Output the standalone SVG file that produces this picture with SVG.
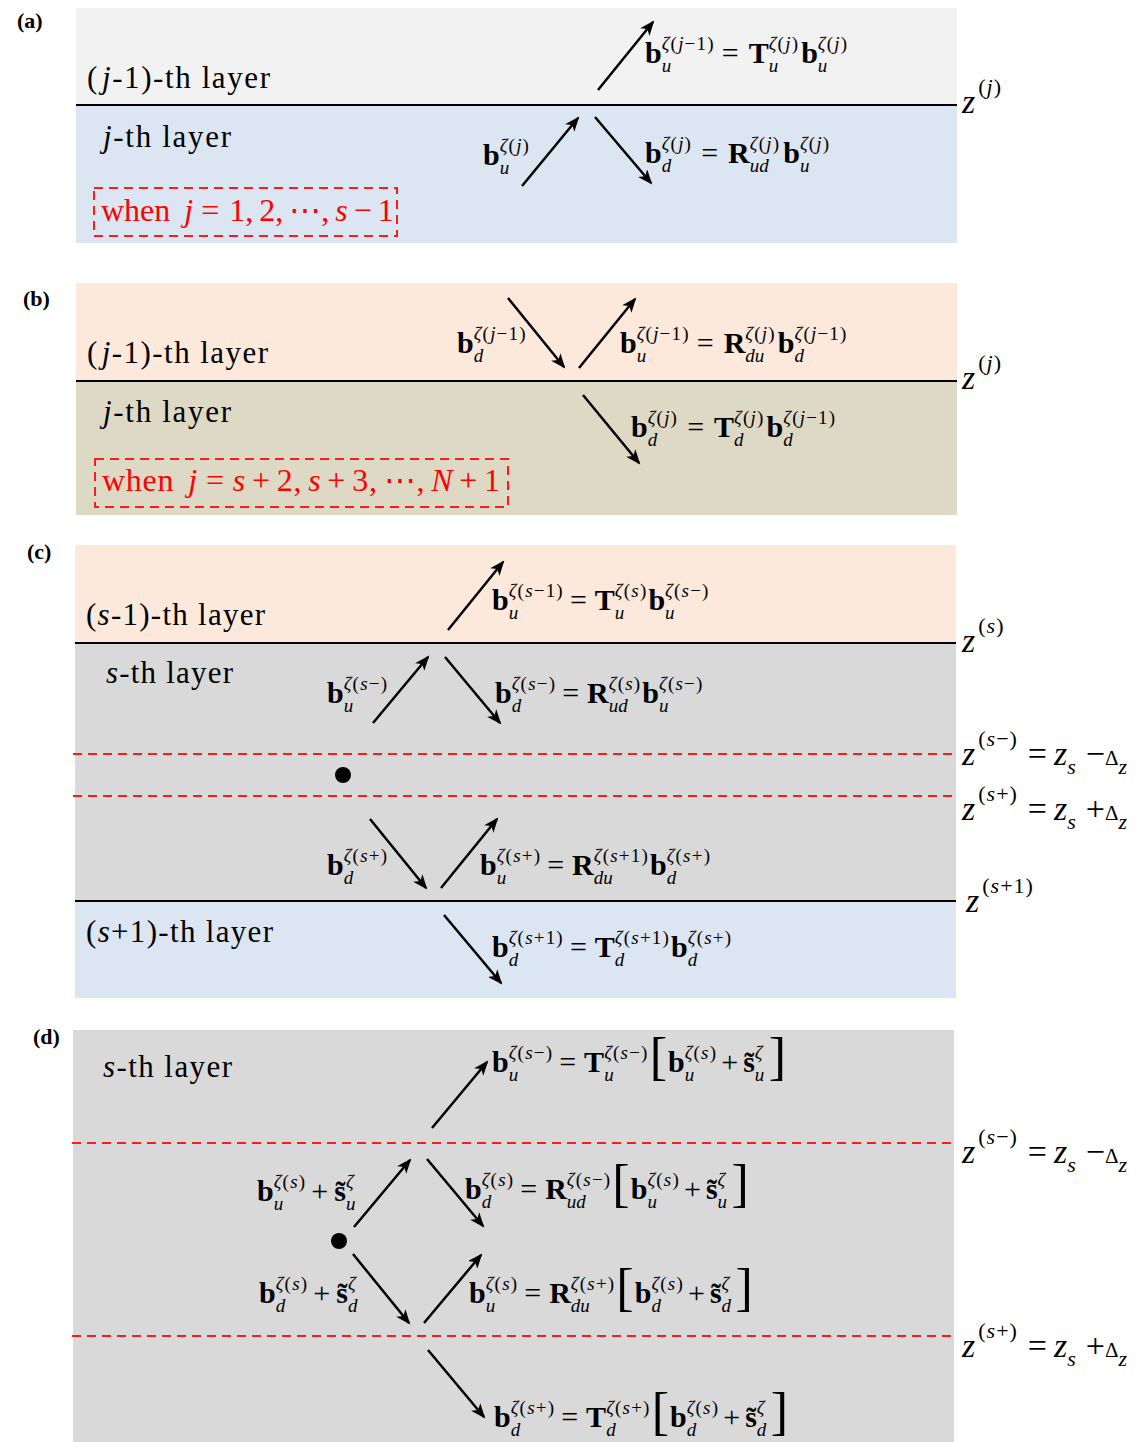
<svg xmlns="http://www.w3.org/2000/svg" width="1142" height="1442" viewBox="0 0 1142 1442">
<style>
.m{font-family:"Liberation Serif","Times New Roman",serif;font-size:30px;fill:#000}
.B{font-weight:bold}
.sb{font-size:19px;font-style:italic;font-weight:normal}
.sp{font-size:19px;font-style:normal;font-weight:normal;letter-spacing:1.2px}
.i{font-style:italic}
.br{font-size:52px;font-weight:normal}
.L{font-family:"Liberation Serif","Times New Roman",serif;font-size:31px;fill:#000}
.P{font-family:"Liberation Serif","Times New Roman",serif;font-size:22px;font-weight:bold;fill:#000}
.rt{font-family:"Liberation Serif","DejaVu Serif",serif;font-size:32px;fill:#ff0000}
.z{font-family:"Liberation Serif","Times New Roman",serif;font-size:34px;font-style:italic;fill:#000}
.zs{font-size:22px;font-style:normal;letter-spacing:1px}
.zb{font-size:22px}
.n{font-style:normal}
.dl{font-style:normal;font-size:21px}
.sep{stroke:#000;stroke-width:2}
.rd{stroke:#ff1a1a;stroke-width:2;stroke-dasharray:9 6;fill:none}
.ar{stroke:#000;stroke-width:2.5;fill:none;marker-end:url(#ah)}
</style>
<defs>
<marker id="ah" markerWidth="16" markerHeight="12" refX="13" refY="6" orient="auto" markerUnits="userSpaceOnUse"><path d="M0,0 L15,6 L0,12 L4,6 Z" fill="#000"/></marker>
</defs>
<rect x="0" y="0" width="1142" height="1442" fill="#fff"/>

<g id="panel-a">
<rect x="76" y="8" width="881" height="97" fill="#f2f2f2"/>
<rect x="76" y="105" width="881" height="138" fill="#dce6f2"/>
<line class="sep" x1="76" y1="105" x2="957" y2="105"/>
<text class="P" x="17" y="28">(a)</text>
<text class="L" x="87" y="88" textLength="183" lengthAdjust="spacing">(<tspan class="i" dx="3">j</tspan>-1)-th layer</text>
<text class="L" x="103" y="147" textLength="128" lengthAdjust="spacing"><tspan class="i">j</tspan>-th layer</text>
<rect class="rd" x="94" y="188" width="303" height="48"/>
<text class="rt" x="101" y="221">when<tspan class="i" dx="14">j</tspan><tspan dx="8">=</tspan><tspan dx="10">1,</tspan><tspan dx="6">2,</tspan><tspan dx="6">⋯,</tspan><tspan class="i" dx="6">s</tspan><tspan dx="6">−</tspan><tspan dx="6">1</tspan></text>
<text class="m" x="645" y="63"><tspan class="B">b</tspan><tspan class="sb" dy="9">u</tspan><tspan class="sp" dx="-9.5" dy="-22"><tspan class="i">ζ</tspan>(<tspan class="i">j</tspan>−1)</tspan><tspan dx="7" dy="13">=</tspan><tspan class="B" dx="10">T</tspan><tspan class="sb" dy="9">u</tspan><tspan class="sp" dx="-9.5" dy="-22"><tspan class="i">ζ</tspan>(<tspan class="i">j</tspan>)</tspan><tspan class="B" dx="2" dy="13">b</tspan><tspan class="sb" dy="9">u</tspan><tspan class="sp" dx="-9.5" dy="-22"><tspan class="i">ζ</tspan>(<tspan class="i">j</tspan>)</tspan></text>
<text class="m" x="483" y="165"><tspan class="B">b</tspan><tspan class="sb" dy="9">u</tspan><tspan class="sp" dx="-9.5" dy="-22"><tspan class="i">ζ</tspan>(<tspan class="i">j</tspan>)</tspan></text>
<text class="m" x="645" y="163"><tspan class="B">b</tspan><tspan class="sb" dy="9">d</tspan><tspan class="sp" dx="-9.5" dy="-22"><tspan class="i">ζ</tspan>(<tspan class="i">j</tspan>)</tspan><tspan dx="9" dy="13">=</tspan><tspan class="B" dx="10">R</tspan><tspan class="sb" dy="9">ud</tspan><tspan class="sp" dx="-19" dy="-22"><tspan class="i">ζ</tspan>(<tspan class="i">j</tspan>)</tspan><tspan class="B" dx="3" dy="13">b</tspan><tspan class="sb" dy="9">u</tspan><tspan class="sp" dx="-9.5" dy="-22"><tspan class="i">ζ</tspan>(<tspan class="i">j</tspan>)</tspan></text>
<text class="z" x="962" y="113">z<tspan class="zs" dx="3" dy="-19">(<tspan class="i">j</tspan>)</tspan></text>
</g>

<g id="panel-b">
<rect x="76" y="283" width="881" height="98" fill="#fce9db"/>
<rect x="76" y="381" width="881" height="134" fill="#ddd9c4"/>
<line class="sep" x1="76" y1="381" x2="957" y2="381"/>
<text class="P" x="23" y="306">(b)</text>
<text class="L" x="87" y="363" textLength="181" lengthAdjust="spacing">(<tspan class="i" dx="3">j</tspan>-1)-th layer</text>
<text class="L" x="103" y="422" textLength="128" lengthAdjust="spacing"><tspan class="i">j</tspan>-th layer</text>
<rect class="rd" x="95" y="459" width="413" height="48"/>
<text class="rt" x="102" y="491" textLength="398" lengthAdjust="spacing">when<tspan class="i" dx="14">j</tspan><tspan dx="8">=</tspan><tspan class="i" dx="8">s</tspan><tspan dx="6">+</tspan><tspan dx="6">2,</tspan><tspan class="i" dx="6">s</tspan><tspan dx="6">+</tspan><tspan dx="6">3,</tspan><tspan dx="6">⋯,</tspan><tspan class="i" dx="6">N</tspan><tspan dx="6">+</tspan><tspan dx="6">1</tspan></text>
<text class="m" x="457" y="353"><tspan class="B">b</tspan><tspan class="sb" dy="9">d</tspan><tspan class="sp" dx="-9.5" dy="-22"><tspan class="i">ζ</tspan>(<tspan class="i">j</tspan>−1)</tspan></text>
<text class="m" x="620" y="353"><tspan class="B">b</tspan><tspan class="sb" dy="9">u</tspan><tspan class="sp" dx="-9.5" dy="-22"><tspan class="i">ζ</tspan>(<tspan class="i">j</tspan>−1)</tspan><tspan dx="7" dy="13">=</tspan><tspan class="B" dx="10">R</tspan><tspan class="sb" dy="9">du</tspan><tspan class="sp" dx="-19" dy="-22"><tspan class="i">ζ</tspan>(<tspan class="i">j</tspan>)</tspan><tspan class="B" dx="2" dy="13">b</tspan><tspan class="sb" dy="9">d</tspan><tspan class="sp" dx="-9.5" dy="-22"><tspan class="i">ζ</tspan>(<tspan class="i">j</tspan>−1)</tspan></text>
<text class="m" x="631" y="437"><tspan class="B">b</tspan><tspan class="sb" dy="9">d</tspan><tspan class="sp" dx="-9.5" dy="-22"><tspan class="i">ζ</tspan>(<tspan class="i">j</tspan>)</tspan><tspan dx="9" dy="13">=</tspan><tspan class="B" dx="10">T</tspan><tspan class="sb" dy="9">d</tspan><tspan class="sp" dx="-9.5" dy="-22"><tspan class="i">ζ</tspan>(<tspan class="i">j</tspan>)</tspan><tspan class="B" dx="2" dy="13">b</tspan><tspan class="sb" dy="9">d</tspan><tspan class="sp" dx="-9.5" dy="-22"><tspan class="i">ζ</tspan>(<tspan class="i">j</tspan>−1)</tspan></text>
<text class="z" x="962" y="389">z<tspan class="zs" dx="3" dy="-19">(<tspan class="i">j</tspan>)</tspan></text>
</g>

<g id="panel-c">
<rect x="75" y="545" width="881" height="98" fill="#fce9db"/>
<rect x="75" y="643" width="881" height="258" fill="#d9d9d9"/>
<rect x="75" y="901" width="881" height="97" fill="#dce6f2"/>
<line class="sep" x1="75" y1="643" x2="956" y2="643"/>
<line class="sep" x1="75" y1="901" x2="956" y2="901"/>
<line class="rd" x1="73" y1="754" x2="956" y2="754"/>
<line class="rd" x1="73" y1="796" x2="956" y2="796"/>
<circle cx="343" cy="775" r="8" fill="#000"/>
<text class="P" x="27" y="559">(c)</text>
<text class="L" x="86" y="625" textLength="179" lengthAdjust="spacing">(<tspan class="i">s</tspan>-1)-th layer</text>
<text class="L" x="106" y="683" textLength="127" lengthAdjust="spacing"><tspan class="i">s</tspan>-th layer</text>
<text class="L" x="86" y="942" textLength="187" lengthAdjust="spacing">(<tspan class="i">s</tspan>+1)-th layer</text>
<text class="m" x="492" y="610"><tspan class="B">b</tspan><tspan class="sb" dy="9">u</tspan><tspan class="sp" dx="-9.5" dy="-22"><tspan class="i">ζ</tspan>(<tspan class="i">s</tspan>−1)</tspan><tspan dx="6" dy="13">=</tspan><tspan class="B" dx="8">T</tspan><tspan class="sb" dy="9">u</tspan><tspan class="sp" dx="-9.5" dy="-22"><tspan class="i">ζ</tspan>(<tspan class="i">s</tspan>)</tspan><tspan class="B" dx="1" dy="13">b</tspan><tspan class="sb" dy="9">u</tspan><tspan class="sp" dx="-9.5" dy="-22"><tspan class="i">ζ</tspan>(<tspan class="i">s</tspan>−)</tspan></text>
<text class="m" x="327" y="703"><tspan class="B">b</tspan><tspan class="sb" dy="9">u</tspan><tspan class="sp" dx="-9.5" dy="-22"><tspan class="i">ζ</tspan>(<tspan class="i">s</tspan>−)</tspan></text>
<text class="m" x="495" y="703"><tspan class="B">b</tspan><tspan class="sb" dy="9">d</tspan><tspan class="sp" dx="-9.5" dy="-22"><tspan class="i">ζ</tspan>(<tspan class="i">s</tspan>−)</tspan><tspan dx="6" dy="13">=</tspan><tspan class="B" dx="8">R</tspan><tspan class="sb" dy="9">ud</tspan><tspan class="sp" dx="-19" dy="-22"><tspan class="i">ζ</tspan>(<tspan class="i">s</tspan>)</tspan><tspan class="B" dx="1" dy="13">b</tspan><tspan class="sb" dy="9">u</tspan><tspan class="sp" dx="-9.5" dy="-22"><tspan class="i">ζ</tspan>(<tspan class="i">s</tspan>−)</tspan></text>
<text class="m" x="327" y="875"><tspan class="B">b</tspan><tspan class="sb" dy="9">d</tspan><tspan class="sp" dx="-9.5" dy="-22"><tspan class="i">ζ</tspan>(<tspan class="i">s</tspan>+)</tspan></text>
<text class="m" x="480" y="875"><tspan class="B">b</tspan><tspan class="sb" dy="9">u</tspan><tspan class="sp" dx="-9.5" dy="-22"><tspan class="i">ζ</tspan>(<tspan class="i">s</tspan>+)</tspan><tspan dx="6" dy="13">=</tspan><tspan class="B" dx="8">R</tspan><tspan class="sb" dy="9">du</tspan><tspan class="sp" dx="-19" dy="-22"><tspan class="i">ζ</tspan>(<tspan class="i">s</tspan>+1)</tspan><tspan class="B" dx="1" dy="13">b</tspan><tspan class="sb" dy="9">d</tspan><tspan class="sp" dx="-9.5" dy="-22"><tspan class="i">ζ</tspan>(<tspan class="i">s</tspan>+)</tspan></text>
<text class="m" x="492" y="957"><tspan class="B">b</tspan><tspan class="sb" dy="9">d</tspan><tspan class="sp" dx="-9.5" dy="-22"><tspan class="i">ζ</tspan>(<tspan class="i">s</tspan>+1)</tspan><tspan dx="6" dy="13">=</tspan><tspan class="B" dx="8">T</tspan><tspan class="sb" dy="9">d</tspan><tspan class="sp" dx="-9.5" dy="-22"><tspan class="i">ζ</tspan>(<tspan class="i">s</tspan>+1)</tspan><tspan class="B" dx="1" dy="13">b</tspan><tspan class="sb" dy="9">d</tspan><tspan class="sp" dx="-9.5" dy="-22"><tspan class="i">ζ</tspan>(<tspan class="i">s</tspan>+)</tspan></text>
<text class="z" x="962" y="652">z<tspan class="zs" dx="3" dy="-19">(<tspan class="i">s</tspan>)</tspan></text>
<text class="z" x="962" y="765">z<tspan class="zs" dx="3" dy="-19">(<tspan class="i">s</tspan>−)</tspan><tspan class="n" dx="10" dy="19">=</tspan><tspan dx="7">z</tspan><tspan class="zb" dy="9">s</tspan><tspan class="n" dx="10" dy="-9">−</tspan><tspan class="dl">Δ</tspan><tspan class="zb" dy="9">z</tspan></text>
<text class="z" x="962" y="820">z<tspan class="zs" dx="3" dy="-19">(<tspan class="i">s</tspan>+)</tspan><tspan class="n" dx="10" dy="19">=</tspan><tspan dx="7">z</tspan><tspan class="zb" dy="9">s</tspan><tspan class="n" dx="10" dy="-9">+</tspan><tspan class="dl">Δ</tspan><tspan class="zb" dy="9">z</tspan></text>
<text class="z" x="966" y="912">z<tspan class="zs" dx="3" dy="-19">(<tspan class="i">s</tspan>+1)</tspan></text>
</g>

<g id="panel-d">
<rect x="73" y="1030" width="881" height="412" fill="#d9d9d9"/>
<line class="rd" x1="72" y1="1143" x2="954" y2="1143"/>
<line class="rd" x1="72" y1="1336" x2="954" y2="1336"/>
<circle cx="339" cy="1241" r="8" fill="#000"/>
<text class="P" x="33" y="1044">(d)</text>
<text class="L" x="103" y="1077" textLength="129" lengthAdjust="spacing"><tspan class="i">s</tspan>-th layer</text>
<text class="m" x="492" y="1072"><tspan class="B">b</tspan><tspan class="sb" dy="9">u</tspan><tspan class="sp" dx="-9.5" dy="-22"><tspan class="i">ζ</tspan>(<tspan class="i">s</tspan>−)</tspan><tspan dx="6" dy="13">=</tspan><tspan class="B" dx="8">T</tspan><tspan class="sb" dy="9">u</tspan><tspan class="sp" dx="-9.5" dy="-22"><tspan class="i">ζ</tspan>(<tspan class="i">s</tspan>−)</tspan><tspan class="br" dx="1" dy="15">[</tspan><tspan class="B" dx="1" dy="-2">b</tspan><tspan class="sb" dy="9">u</tspan><tspan class="sp" dx="-9.5" dy="-22"><tspan class="i">ζ</tspan>(<tspan class="i">s</tspan>)</tspan><tspan dx="4" dy="13">+</tspan><tspan class="B" dx="5">s̃</tspan><tspan class="sb" dy="9">u</tspan><tspan class="sp" dx="-9.5" dy="-22"><tspan class="i">ζ</tspan></tspan><tspan class="br" dx="5" dy="15">]</tspan></text>
<text class="m" x="257" y="1201"><tspan class="B">b</tspan><tspan class="sb" dy="9">u</tspan><tspan class="sp" dx="-9.5" dy="-22"><tspan class="i">ζ</tspan>(<tspan class="i">s</tspan>)</tspan><tspan dx="5" dy="13">+</tspan><tspan class="B" dx="6">s̃</tspan><tspan class="sb" dy="9">u</tspan><tspan class="sp" dx="-9.5" dy="-22"><tspan class="i">ζ</tspan></tspan></text>
<text class="m" x="465" y="1199"><tspan class="B">b</tspan><tspan class="sb" dy="9">d</tspan><tspan class="sp" dx="-9.5" dy="-22"><tspan class="i">ζ</tspan>(<tspan class="i">s</tspan>)</tspan><tspan dx="6" dy="13">=</tspan><tspan class="B" dx="8">R</tspan><tspan class="sb" dy="9">ud</tspan><tspan class="sp" dx="-19" dy="-22"><tspan class="i">ζ</tspan>(<tspan class="i">s</tspan>−)</tspan><tspan class="br" dx="1" dy="15">[</tspan><tspan class="B" dx="1" dy="-2">b</tspan><tspan class="sb" dy="9">u</tspan><tspan class="sp" dx="-9.5" dy="-22"><tspan class="i">ζ</tspan>(<tspan class="i">s</tspan>)</tspan><tspan dx="4" dy="13">+</tspan><tspan class="B" dx="5">s̃</tspan><tspan class="sb" dy="9">u</tspan><tspan class="sp" dx="-9.5" dy="-22"><tspan class="i">ζ</tspan></tspan><tspan class="br" dx="5" dy="15">]</tspan></text>
<text class="m" x="259" y="1303"><tspan class="B">b</tspan><tspan class="sb" dy="9">d</tspan><tspan class="sp" dx="-9.5" dy="-22"><tspan class="i">ζ</tspan>(<tspan class="i">s</tspan>)</tspan><tspan dx="5" dy="13">+</tspan><tspan class="B" dx="6">s̃</tspan><tspan class="sb" dy="9">d</tspan><tspan class="sp" dx="-9.5" dy="-22"><tspan class="i">ζ</tspan></tspan></text>
<text class="m" x="469" y="1303"><tspan class="B">b</tspan><tspan class="sb" dy="9">u</tspan><tspan class="sp" dx="-9.5" dy="-22"><tspan class="i">ζ</tspan>(<tspan class="i">s</tspan>)</tspan><tspan dx="6" dy="13">=</tspan><tspan class="B" dx="8">R</tspan><tspan class="sb" dy="9">du</tspan><tspan class="sp" dx="-19" dy="-22"><tspan class="i">ζ</tspan>(<tspan class="i">s</tspan>+)</tspan><tspan class="br" dx="1" dy="15">[</tspan><tspan class="B" dx="1" dy="-2">b</tspan><tspan class="sb" dy="9">d</tspan><tspan class="sp" dx="-9.5" dy="-22"><tspan class="i">ζ</tspan>(<tspan class="i">s</tspan>)</tspan><tspan dx="4" dy="13">+</tspan><tspan class="B" dx="5">s̃</tspan><tspan class="sb" dy="9">d</tspan><tspan class="sp" dx="-9.5" dy="-22"><tspan class="i">ζ</tspan></tspan><tspan class="br" dx="5" dy="15">]</tspan></text>
<text class="m" x="494" y="1427"><tspan class="B">b</tspan><tspan class="sb" dy="9">d</tspan><tspan class="sp" dx="-9.5" dy="-22"><tspan class="i">ζ</tspan>(<tspan class="i">s</tspan>+)</tspan><tspan dx="6" dy="13">=</tspan><tspan class="B" dx="8">T</tspan><tspan class="sb" dy="9">d</tspan><tspan class="sp" dx="-9.5" dy="-22"><tspan class="i">ζ</tspan>(<tspan class="i">s</tspan>+)</tspan><tspan class="br" dx="1" dy="15">[</tspan><tspan class="B" dx="1" dy="-2">b</tspan><tspan class="sb" dy="9">d</tspan><tspan class="sp" dx="-9.5" dy="-22"><tspan class="i">ζ</tspan>(<tspan class="i">s</tspan>)</tspan><tspan dx="4" dy="13">+</tspan><tspan class="B" dx="5">s̃</tspan><tspan class="sb" dy="9">d</tspan><tspan class="sp" dx="-9.5" dy="-22"><tspan class="i">ζ</tspan></tspan><tspan class="br" dx="5" dy="15">]</tspan></text>
<text class="z" x="962" y="1163">z<tspan class="zs" dx="3" dy="-19">(<tspan class="i">s</tspan>−)</tspan><tspan class="n" dx="10" dy="19">=</tspan><tspan dx="7">z</tspan><tspan class="zb" dy="9">s</tspan><tspan class="n" dx="10" dy="-9">−</tspan><tspan class="dl">Δ</tspan><tspan class="zb" dy="9">z</tspan></text>
<text class="z" x="962" y="1357">z<tspan class="zs" dx="3" dy="-19">(<tspan class="i">s</tspan>+)</tspan><tspan class="n" dx="10" dy="19">=</tspan><tspan dx="7">z</tspan><tspan class="zb" dy="9">s</tspan><tspan class="n" dx="10" dy="-9">+</tspan><tspan class="dl">Δ</tspan><tspan class="zb" dy="9">z</tspan></text>
</g>

<g id="connectors">
<line class="ar" x1="598" y1="90" x2="653" y2="22"/>
<line class="ar" x1="522" y1="186" x2="578" y2="118"/>
<line class="ar" x1="595" y1="117" x2="651" y2="183"/>
<line class="ar" x1="508" y1="298" x2="564" y2="367"/>
<line class="ar" x1="579" y1="368" x2="635" y2="299"/>
<line class="ar" x1="583" y1="395" x2="639" y2="463"/>
<line class="ar" x1="448" y1="630" x2="503" y2="562"/>
<line class="ar" x1="373" y1="723" x2="428" y2="657"/>
<line class="ar" x1="445" y1="657" x2="500" y2="723"/>
<line class="ar" x1="370" y1="819" x2="426" y2="888"/>
<line class="ar" x1="441" y1="888" x2="497" y2="819"/>
<line class="ar" x1="444" y1="915" x2="501" y2="983"/>
<line class="ar" x1="432" y1="1128" x2="487" y2="1062"/>
<line class="ar" x1="354" y1="1227" x2="410" y2="1160"/>
<line class="ar" x1="427" y1="1159" x2="483" y2="1226"/>
<line class="ar" x1="353" y1="1254" x2="409" y2="1323"/>
<line class="ar" x1="424" y1="1323" x2="481" y2="1255"/>
<line class="ar" x1="428" y1="1350" x2="484" y2="1417"/>
</g>
</svg>
